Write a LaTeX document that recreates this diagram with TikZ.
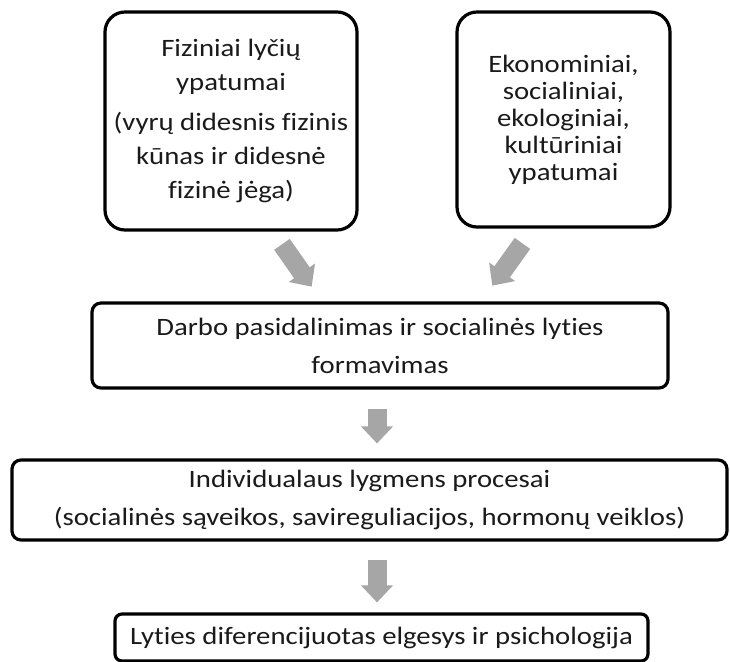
\documentclass[tikz,border=0pt]{standalone}
\usepackage{fontspec}
\setmainfont{Carlito}[FakeStretch=1.15, Ligatures={NoCommon}]
\usetikzlibrary{arrows.meta}
\definecolor{arrowgray}{HTML}{A6A6A6}
\definecolor{txt}{HTML}{1A1A1A}
\begin{document}
\begin{tikzpicture}[x=1pt,y=1pt,
  box/.style={draw=black, line width=3.2pt, align=center, text=txt, inner sep=0pt},
  garrow/.style={draw=arrowgray, line width=19pt, -{Triangle[length=17pt,width=31pt]}}]
\useasboundingbox (0,0) rectangle (730,-661);
\fill[white] (0,0) rectangle (730,-661);

\node[box, rounded corners=20pt, minimum width=252pt, minimum height=218pt,
      font=\fontsize{25}{34}\selectfont] (b1) at (231,-121)
  {Fiziniai lyčių\\ypatumai\\[6pt](vyrų didesnis fizinis\\kūnas ir didesnė\\fizinė jėga)};

\node[box, rounded corners=20pt, minimum width=213pt, minimum height=215pt,
      font=\fontsize{25}{27}\selectfont] (b2) at (563.5,-119.5)
  {Ekonominiai,\\socialiniai,\\ekologiniai,\\kultūriniai\\ypatumai};

\node[box, rounded corners=9pt, minimum width=576pt, minimum height=85pt,
      font=\fontsize{25}{38}\selectfont] (b3) at (380,-345.5)
  {Darbo pasidalinimas ir socialinės lyties\\formavimas};

\node[box, rounded corners=9pt, minimum width=715pt, minimum height=80pt,
      font=\fontsize{25}{38}\selectfont] (b4) at (369.5,-500)
  {Individualaus lygmens procesai\\(socialinės sąveikos, savireguliacijos, hormonų veiklos)};

\node[box, rounded corners=7pt, minimum width=533pt, minimum height=47pt,
      font=\fontsize{25}{30}\selectfont] (b5) at (381.5,-637.5)
  {Lyties diferencijuotas elgesys ir psichologija};

\draw[garrow, shorten <=15.6pt, shorten >=18pt]
  ([xshift=42pt]b1.south) -- ([xshift=-58pt]b3.north);
\draw[garrow, shorten <=18.2pt, shorten >=19.4pt]
  ([xshift=-30.5pt]b2.south) -- ([xshift=101pt]b3.north);
\draw[garrow, shorten <=19pt, shorten >=15pt]
  ([xshift=-3pt]b3.south) -- ([xshift=7.5pt]b4.north);
\draw[garrow, shorten <=18pt, shorten >=10pt]
  ([xshift=7.5pt]b4.south) -- ([xshift=-4.5pt]b5.north);
\end{tikzpicture}
\end{document}
